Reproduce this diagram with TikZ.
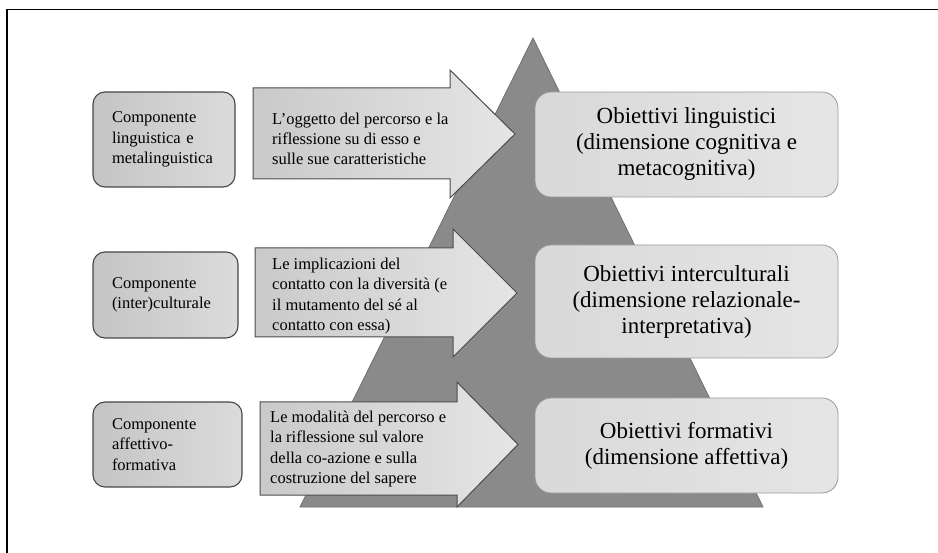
\documentclass[tikz,border=0pt]{standalone}
\usepackage{fontspec}
\setmainfont{Liberation Serif}
\begin{document}
\begin{tikzpicture}[x=1pt,y=-1pt,
  compbox/.style={draw=black!72, line width=1.1pt, rounded corners=12pt,
    left color=black!23, right color=black!14, inner xsep=19pt, inner ysep=0pt,
    align=left, font=\fontsize{16.5}{20.5}\selectfont},
  arrowshape/.style={draw=black!70, line width=1pt, left color=black!21, right color=black!10},
  arrowtext/.style={anchor=west, inner sep=0pt, align=left, font=\fontsize{16.5}{20.3}\selectfont},
  goalbox/.style={draw=black!40, line width=0.8pt, rounded corners=16pt,
    left color=black!15, right color=black!10, minimum width=303pt, inner sep=0pt,
    align=center, font=\fontsize{23}{26}\selectfont}]
\useasboundingbox (0,0) rectangle (938,553);
% frame
\draw[line width=1.5pt] (938,9.5) -- (7,9.5) -- (7,553);
% pyramid
\draw[fill=black!46, draw=black!56, line width=0.8pt] (533,38) -- (300,507) -- (763,507) -- cycle;

% left component boxes
\node[compbox, text width=104pt, minimum height=95pt] (c1) at (164,139.5)
  {Componente\\linguistica e\\metalinguistica};
\node[compbox, text width=107pt, minimum height=86pt] (c2) at (165.5,295)
  {Componente\\(inter)culturale};
\node[compbox, text width=111pt, minimum height=85pt] (c3) at (167.5,444.5)
  {Componente\\affettivo-\\formativa};

% block arrows
\draw[arrowshape] (253,88) -- (450,88) -- (450,70) -- (515,134) -- (450,198) -- (450,179) -- (253,179) -- cycle;
\draw[arrowshape] (255,248) -- (453,248) -- (453,229) -- (517,293) -- (453,357) -- (453,337) -- (255,337) -- cycle;
\draw[arrowshape] (260,402) -- (457,402) -- (457,382) -- (518,444.5) -- (457,507) -- (457,495) -- (260,495) -- cycle;

\node[arrowtext] (a1) at (272,139)
  {L’oggetto del percorso e la\\riflessione su di esso e\\sulle sue caratteristiche};
\node[arrowtext] (a2) at (272,296)
  {Le implicazioni del\\contatto con la diversità (e\\il mutamento del sé al\\contatto con essa)};
\node[arrowtext] (a3) at (270,449)
  {Le modalità del percorso e\\la riflessione sul valore\\della co-azione e sulla\\costruzione del sapere};

% goal boxes
\node[goalbox, minimum height=105pt] (g1) at (686.5,144.5)
  {Obiettivi linguistici\\(dimensione cognitiva e\\metacognitiva)};
\node[goalbox, minimum height=113pt] (g2) at (686.5,301.5)
  {Obiettivi interculturali\\(dimensione relazionale-\\interpretativa)};
\node[goalbox, minimum height=95pt] (g3) at (686.5,445.5)
  {Obiettivi formativi\\(dimensione affettiva)};
\end{tikzpicture}
\end{document}
